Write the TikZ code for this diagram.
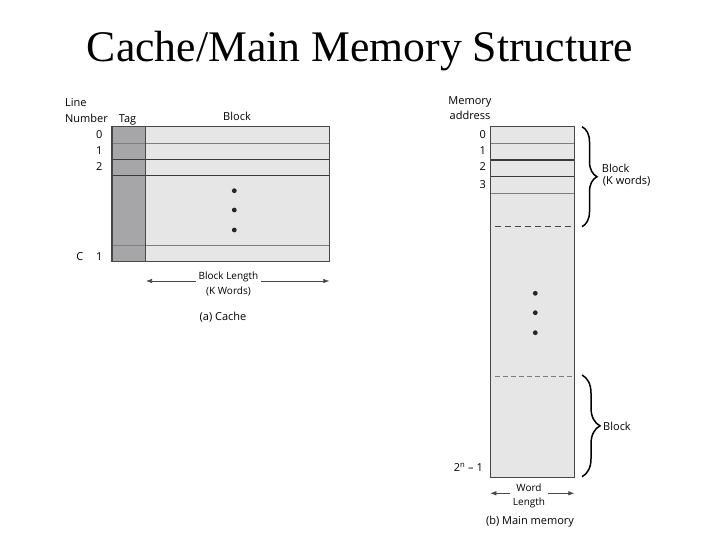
\documentclass[tikz,border=0pt]{standalone}
\usepackage{fontspec}
\setmainfont{Liberation Serif}
\newfontfamily\lblfont{Open Sans}
\usetikzlibrary{positioning,arrows,arrows.meta,calc,decorations.pathreplacing}
\definecolor{memfill}{RGB}{230,230,230}
\definecolor{tagfill}{RGB}{166,166,168}
\definecolor{edge}{RGB}{72,72,72}
\definecolor{rowline}{RGB}{125,125,125}
\tikzset{
	every node/.style = { inner sep=0pt, font=\lblfont\fontsize{11}{13}\selectfont },
	ttl/.style = { anchor=base, font=\rmfamily\fontsize{43.7}{48}\selectfont },
	hd/.style = { anchor=base },
	hdl/.style = { anchor=base west },
	num/.style = { anchor=base east },
	sml/.style = { fill=white, inner xsep=3pt, align=center, font=\lblfont\fontsize{10}{15}\selectfont },
	frame/.style = { draw=edge, line width=1.1pt },
	thinrow/.style = { draw=rowline, line width=0.7pt },
	thickrow/.style = { draw=edge!80!black, line width=1.1pt },
	dashrow/.style = { draw=edge, line width=1pt, dash pattern=on 6pt off 4pt },
	ltdash/.style = { draw=rowline, line width=0.7pt, dash pattern=on 5pt off 3pt },
	dim/.style = { draw=edge, line width=0.6pt, {Latex[length=6pt,width=4.5pt]}-{Latex[length=6pt,width=4.5pt]} },
	dot/.style = { fill=black!85 },
	brc/.style = { draw=black, line width=1.5pt, decorate, decoration={brace, amplitude=#1} },
}
\begin{document}
\begin{tikzpicture}[x=1pt,y=-1pt]
\useasboundingbox (0,0) rectangle (720,540);
\node (title) [ttl] at (360,62) {Cache/Main Memory Structure};

% (a) cache
\coordinate (c-nw) at (112,126.7);
\coordinate (c-se) at (329.3,261.7);
\coordinate (t-se) at (145.7,261.7);
\fill[memfill] (c-nw) rectangle (c-se);
\fill[tagfill] (c-nw) rectangle (t-se);
\foreach \y in {143,245.7} \draw[thinrow] (112,\y) -- (329.3,\y);
\foreach \y in {159.3,175.7} \draw[thickrow] (112,\y) -- (329.3,\y);
\draw[frame] (c-nw) rectangle (c-se);
\draw[frame] (145.7,126.7) -- (t-se);
\foreach \y in {190.7,210,230} \fill[dot] (234.3,\y) circle (2.4);

\node (lnum1) [hdl] at (65,106.5)  {Line};
\node (lnum2) [hdl] at (65,122.7)  {Number};
\node (tag)   [hd]  at (127.5,122.7) {Tag};
\node (blk)   [hd]  at (237,121)   {Block};
\foreach \n/\y in {0/138.3,1/155,2/171} \node (ln\n) [num] at (102.7,\y) {\n};
\node (lnc)   [num] at (102.7,260.7) {C\hspace{13pt}1};

\coordinate (bl-l) at (146,281);
\coordinate (bl-r) at (329.3,281);
\draw[dim] (bl-l) -- (bl-r);
\node (blen)  [sml] at (228.5,283.5) {Block Length\\(K Words)};
\node (capa)  [hd]  at (223,320)   {(a) Cache};

% (b) main memory
\coordinate (m-nw) at (490.3,126.7);
\coordinate (m-se) at (574.3,477.3);
\fill[memfill] (m-nw) rectangle (m-se);
\foreach \y in {143.3,193.3} \draw[thinrow] (490.3,\y) -- (574.3,\y);
\foreach \y in {160,176.3} \draw[thickrow] (490.3,\y) -- (574.3,\y);
\draw[dashrow] (495,226.7) -- (574.3,226.7);
\draw[ltdash]  (495,376.7) -- (574.3,376.7);
\draw[frame] (m-nw) rectangle (m-se);
\foreach \y in {293.3,312.7,332.7} \fill[dot] (535.3,\y) circle (2.4);

\node (madr1) [hd] at (470,105) {Memory};
\node (madr2) [hd] at (470,120) {address};
\foreach \n/\y in {0/138.3,1/155,2/171,3/188.3} \node (ma\n) [num] at (486,\y) {\n};
\node (mlast) [num] at (483,471.7) {2\textsuperscript{n} – 1};

\draw[brc=15pt] (582,126.7) -- (582,226.7);
\draw[brc=18pt] (582,375) -- (582,476.7);
\node (mblk1a) [hdl] at (601.7,172.3) {Block};
\node (mblk1b) [hdl] at (602.7,185)   {(K words)};
\node (mblk2)  [hdl] at (603,430)     {Block};

\coordinate (wl-l) at (490.3,493.3);
\coordinate (wl-r) at (574.3,493.3);
\draw[dim] (wl-l) -- (wl-r);
\node (wlen)  [sml,font=\lblfont\fontsize{10}{14}\selectfont] at (529,496) {Word\\Length};
\node (capb)  [hd]  at (530,524)   {(b) Main memory};
\end{tikzpicture}
\end{document}
